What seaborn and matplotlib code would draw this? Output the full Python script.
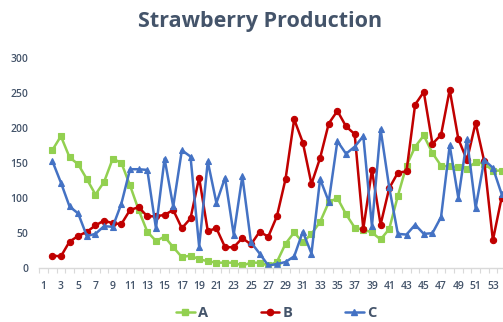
import matplotlib
matplotlib.use("Agg")
import matplotlib.pyplot as plt
from matplotlib.ticker import FixedLocator, MultipleLocator
from matplotlib.lines import Line2D
import seaborn as sns
import pandas as pd

# Weekly production for three farms (week 1 has no reading)
weeks = list(range(2, 55))
a_vals = [168, 188, 158, 148, 127, 105, 123, 156, 150, 118, 83, 52, 39, 45, 30, 16, 18, 13,
          10, 8, 8, 8, 4, 8, 8, 4, 9, 35, 51, 37, 49, 66, 94, 100, 77, 58, 55, 51, 41, 56,
          103, 146, 173, 189, 164, 146, 145, 144, 142, 151, 149, 139, 139]
b_vals = [18, 17, 38, 46, 52, 61, 68, 64, 63, 83, 87, 74, 74, 76, 83, 57, 71, 129, 53, 57,
          30, 30, 43, 34, 52, 45, 74, 127, 212, 179, 120, 157, 206, 224, 202, 191, 56, 140,
          62, 114, 136, 138, 233, 251, 177, 190, 254, 184, 154, 207, 152, 40, 100]
c_vals = [153, 122, 88, 78, 46, 49, 60, 59, 92, 141, 141, 140, 57, 156, 88, 168, 159, 31,
          152, 93, 129, 48, 131, 37, 21, 4, 6, 9, 17, 52, 21, 127, 95, 181, 163, 173, 188, 60,
          198, 115, 49, 48, 62, 49, 50, 73, 175, 100, 184, 86, 154, 143, 106]
series_names = ["A", "B", "C"]
x_tick_labels = list(range(1, 54, 2))
y_ticks = [0, 50, 100, 150, 200, 250, 300]

colors = {"A": "#92D050", "B": "#C00000", "C": "#4472C4"}
markers = {"A": "s", "B": "o", "C": "^"}
text_color = "#44546A"

df = pd.DataFrame({
    "week": weeks * 3,
    "value": a_vals + b_vals + c_vals,
    "series": [s for s, vals in zip(series_names, [a_vals, b_vals, c_vals]) for _ in vals],
})

sns.set_theme(style="white")
plt.rcParams["font.family"] = ["Open Sans", "DejaVu Sans"]

W, H = 503, 322
fig = plt.figure(figsize=(W / 100, H / 100), dpi=100)
left_px, right_px = 39.3, 503
bottom_px, top_px = 268.3, 57.5
ax = fig.add_axes([left_px / W, 1 - bottom_px / H,
                   (right_px - left_px) / W, (bottom_px - top_px) / H])

sns.lineplot(data=df, x="week", y="value", hue="series", style="series",
             palette=colors, markers=markers, dashes=False, linewidth=1.8,
             markersize=4.5, markeredgewidth=0.8, legend=False, ax=ax)
for ln, s in zip(ax.lines, series_names):
    ln.set_markeredgecolor(colors[s])
    ln.set_markerfacecolor(colors[s])

ax.set_xlim(0.5, 0.5 + (right_px - left_px) / 8.64)
ax.set_ylim(0, 300)
ax.set_xlabel("")
ax.set_ylabel("")

ax.xaxis.set_major_locator(FixedLocator(x_tick_labels))
ax.set_xticklabels([str(v) for v in x_tick_labels])
ax.xaxis.set_minor_locator(MultipleLocator(1, offset=0.5))
ax.set_yticks(y_ticks)
ax.set_yticklabels([str(v) for v in y_ticks])

ax.tick_params(axis="x", which="major", length=0, pad=9, labelsize=7.5,
               labelcolor=text_color)
ax.tick_params(axis="x", which="minor", length=3.5, width=0.8, color="#D9D9D9",
               direction="out", bottom=True)
ax.tick_params(axis="y", length=0, pad=8, labelsize=7.5, labelcolor=text_color)
for lab in ax.get_xticklabels() + ax.get_yticklabels():
    lab.set_fontweight("semibold")

for side in ["left", "right", "top"]:
    ax.spines[side].set_visible(False)
ax.spines["bottom"].set_color("#D9D9D9")
ax.spines["bottom"].set_linewidth(1.0)
ax.grid(False)

fig.text(260.5 / W, 1 - 21 / H, "Strawberry Production", ha="center", va="center",
         fontsize=15.5, fontweight="bold", color=text_color)

handles = [Line2D([0], [0], color=colors[s], marker=markers[s], markersize=4.5,
                  linewidth=1.8, markerfacecolor=colors[s], markeredgecolor=colors[s])
           for s in series_names]
leg = fig.legend(handles, series_names, loc="center", bbox_to_anchor=(276 / W, 1 - 313 / H),
                 ncol=3, frameon=False, handlelength=1.3, handletextpad=0.2,
                 columnspacing=3.6, prop={"size": 10.5, "weight": "bold"})
for t in leg.get_texts():
    t.set_color(text_color)

fig.savefig("out.png", dpi=100)
